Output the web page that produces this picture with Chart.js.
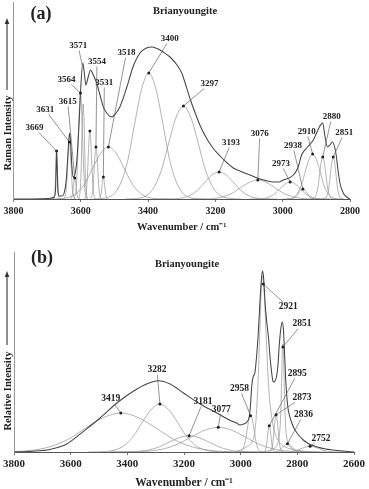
<!DOCTYPE html>
<html>
<head>
<meta charset="utf-8">
<script src="https://cdn.jsdelivr.net/npm/chart.js@4.4.1/dist/chart.umd.min.js"></script>
<style>
  html, body { margin: 0; padding: 0; background: #fff; }
  #wrap { position: relative; width: 369px; height: 489px; }
  canvas { position: absolute; left: 0; }
  #chartA { top: 0; }
  #chartB { top: 245px; }
</style>
</head>
<body>
<div id="wrap">
  <canvas id="chartA" width="369" height="245"></canvas>
  <canvas id="chartB" width="369" height="244"></canvas>
</div>
<script>
const SERIF = '"Liberation Serif", "Times New Roman", serif';

// ---- (a) Raman spectrum, band fit 3800-2800 cm-1 ----
const ticksA = [3800, 3600, 3400, 3200, 3000, 2800];

const spectrumA = [[3800,0],[3720,0.3],[3690,0.8],[3679,2],[3675,10],[3673,35],[3672,48],[3670.5,35],[3668,8],[3664,3],[3655,3],[3648,8],[3643,20],[3639,40],[3636,58],[3633,66],[3630,55],[3627,35],[3623,22],[3618,24],[3612,38],[3606,70],[3600,112],[3594,136],[3589,124],[3585,114],[3578,122],[3571,129],[3563,124],[3553,116],[3543,104],[3533,92],[3523,86],[3508,82],[3495,86],[3484,92],[3463,112],[3445,132],[3424,146],[3405,151],[3388,152],[3370,150],[3355,147],[3335,142],[3314,134],[3300,126],[3290,116],[3275,100],[3260,86],[3245,73],[3225,60],[3205,50],[3186,43],[3165,36],[3147,31],[3127,28],[3097,24],[3067,20],[3028,17],[3012,17],[2998,19],[2968,24],[2954,32],[2944,44],[2926,52],[2909,59],[2891,72],[2881,76],[2876,66],[2867,52],[2860,54],[2852,57],[2842,46],[2836,30],[2830,16],[2820,6],[2810,2],[2800,0]];

const band3669 = [[3687,0],[3680,0.5],[3677,6],[3674.5,29],[3672,48],[3669.5,29],[3667,6],[3664,0.5],[3657,0]];
const band3631 = [[3652,0],[3649,0.6],[3644,8],[3641.5,18],[3639,35],[3636.5,50],[3634,57],[3631.5,50],[3629,35],[3626.5,18],[3624,8],[3619,0.6],[3616,0]];
const band3615 = [[3632,0],[3630,0.2],[3626,3],[3624,7],[3622,13],[3620,18],[3618,21],[3616,18],[3614,13],[3612,7],[3610,3],[3606,0.2],[3604,0]];
const band3601 = [[3622,0],[3619,1.2],[3613,14],[3610,34],[3607,65],[3604,93],[3601,106],[3598,93],[3595,65],[3592,34],[3589,14],[3583,1.2],[3580,0]];
const band3593 = [[3607,0],[3605,1],[3601,13],[3599,30],[3597,58],[3595,84],[3593,95],[3591,84],[3589,58],[3587,30],[3585,13],[3581,1],[3579,0]];
const band3573 = [[3591,0],[3588,0.7],[3583,9],[3580.5,22],[3578,41],[3575.5,60],[3573,68],[3570.5,60],[3568,41],[3565.5,22],[3563,9],[3558,0.7],[3555,0]];
const band3555 = [[3573,0],[3570,0.6],[3565,7],[3562.5,17],[3560,32],[3557.5,46],[3555,52],[3552.5,46],[3550,32],[3547.5,17],[3545,7],[3540,0.6],[3537,0]];
const band3533 = [[3547,0],[3545,0.2],[3541,3],[3539,7],[3537,13],[3535,19],[3533,22],[3531,19],[3529,13],[3527,7],[3525,3],[3521,0.2],[3519,0]];
const band3518 = [[3698,0],[3653,0.6],[3630.5,2.3],[3608,7],[3585.5,17],[3563,32],[3540.5,46],[3518,52],[3495.5,46],[3473,32],[3450.5,17],[3428,7],[3405.5,2.3],[3383,0.6],[3338,0]];
const band3398 = [[3562,0],[3521,1.4],[3500.5,5.5],[3480,17],[3459.5,40],[3439,77],[3418.5,111],[3398,126],[3377.5,111],[3357,77],[3336.5,40],[3316,17],[3295.5,5.5],[3275,1.4],[3234,0]];
const band3295 = [[3467,0],[3424,1],[3402.5,4],[3381,12.5],[3359.5,30],[3338,57],[3316.5,82],[3295,93],[3273.5,82],[3252,57],[3230.5,30],[3209,12.5],[3187.5,4],[3166,1],[3123,0]];
const band3189 = [[3361,0],[3318,0.3],[3296.5,1.2],[3275,3.6],[3253.5,8.6],[3232,16.5],[3210.5,24],[3189,27],[3167.5,24],[3146,16.5],[3124.5,8.6],[3103,3.6],[3081.5,1.2],[3060,0.3],[3017,0]];
const band3074 = [[3274,0],[3224,0.2],[3199,0.8],[3174,2.6],[3149,6],[3124,11.6],[3099,16.7],[3074,19],[3049,16.7],[3024,11.6],[2999,6],[2974,2.6],[2949,0.8],[2924,0.2],[2874,0]];
const band2978 = [[3098,0],[3068,0.2],[3053,0.7],[3038,2.3],[3023,5.4],[3008,10.4],[2993,15],[2978,17],[2963,15],[2948,10.4],[2933,5.4],[2918,2.3],[2903,0.7],[2888,0.2],[2858,0]];
const band2940 = [[2988,0],[2976,0.1],[2970,0.4],[2964,1.4],[2958,3.2],[2952,6.1],[2946,8.8],[2940,10],[2934,8.8],[2928,6.1],[2922,3.2],[2916,1.4],[2910,0.4],[2904,0.1],[2892,0]];
const band2911 = [[2999,0],[2977,0.5],[2966,2],[2955,6.1],[2944,14.4],[2933,27.5],[2922,39.6],[2911,45],[2900,39.6],[2889,27.5],[2878,14.4],[2867,6.1],[2856,2],[2845,0.5],[2823,0]];
const band2881 = [[2917,0],[2908,0.5],[2903.5,1.8],[2899,5.7],[2894.5,13.4],[2890,25.6],[2885.5,37],[2881,42],[2876.5,37],[2872,25.6],[2867.5,13.4],[2863,5.7],[2858.5,1.8],[2854,0.5],[2845,0]];
const band2850 = [[2882,0],[2874,0.5],[2870,1.8],[2866,5.7],[2862,13.4],[2858,25.6],[2854,37],[2850,42],[2846,37],[2842,25.6],[2838,13.4],[2834,5.7],[2830,1.8],[2826,0.5],[2818,0]];

const bandsA = [band3669, band3631, band3615, band3601, band3593, band3573, band3555, band3533, band3518,
  band3398, band3295, band3189, band3074, band2978, band2940, band2911, band2881, band2850];

// peak labels: x/y = marked point, dx/dy = label offset in px
const marksA = [
  {text: '3669', x: 3672, y: 48, dx: -22, dy: -23},
  {text: '3631', x: 3634, y: 57, dx: -24, dy: -32},
  {text: '3615', x: 3618, y: 21, dx: -7, dy: -76},
  {text: '3564', x: 3601, y: 106, dx: -14, dy: -13},
  {text: '3571', x: 3596, y: 134, dx: -4, dy: -19, dot: false},
  {text: '3554', x: 3555, y: 52, dx: 1, dy: -85},
  {text: '3531', x: 3533, y: 22, dx: 1, dy: -94},
  {text: '', x: 3573, y: 68},
  {text: '3518', x: 3518, y: 52, dx: 18, dy: -94},
  {text: '3400', x: 3398, y: 126, dx: 21, dy: -34},
  {text: '3297', x: 3295, y: 93, dx: 26, dy: -22},
  {text: '3193', x: 3189, y: 27, dx: 12, dy: -29},
  {text: '3076', x: 3074, y: 19, dx: 2, dy: -46},
  {text: '2973', x: 2978, y: 17, dx: -9, dy: -18},
  {text: '2938', x: 2940, y: 10, dx: -10, dy: -43},
  {text: '2910', x: 2911, y: 45, dx: -6, dy: -22},
  {text: '2880', x: 2881, y: 42, dx: 9, dy: -40},
  {text: '2851', x: 2850, y: 42, dx: 11, dy: -24}
];

// ---- (b) relative intensity, band fit 3800-2600 cm-1 ----
const ticksB = [3800, 3600, 3400, 3200, 3000, 2800, 2600];

const spectrumB = [[3800,0],[3750,0.5],[3700,1.5],[3673,2.5],[3614,8],[3555,20.7],[3496,34],[3437,49],[3379,60.7],[3332,68],[3291,71.3],[3249,68],[3202,59],[3143,48],[3084,39],[3040,32],[3015,29],[3002,27],[2990,28],[2978,30],[2970,35],[2965,48],[2961,66],[2956,75],[2950,79],[2944,95],[2938,118],[2932,150],[2927,172],[2923,181],[2919,174],[2914,150],[2908,130],[2902,115],[2896,94],[2890,78],[2885,70],[2879,71],[2873,76],[2868,88],[2864,106],[2858,124],[2853,130],[2849,122],[2846,105],[2842,78],[2837,55],[2832,42],[2823,32],[2814,25],[2800,18.5],[2779,12],[2755,7.5],[2732,5.3],[2700,3],[2673,2],[2640,1],[2600,0]];

const band3423 = [[3800,0.4],[3735,1.7],[3673,5.3],[3610.5,12.5],[3548,23.8],[3485.5,34.3],[3423,39],[3360.5,34.3],[3298,23.8],[3235.5,12.5],[3173,5.3],[3110.5,1.7],[3048,0.4],[2923,0]];
const band3285 = [[3537,0],[3474,0.5],[3442.5,2.1],[3411,6.5],[3379.5,15.4],[3348,29.3],[3316.5,42.2],[3285,48],[3253.5,42.2],[3222,29.3],[3190.5,15.4],[3159,6.5],[3127.5,2.1],[3096,0.5],[3033,0]];
const band3182 = [[3462,0],[3392,0.2],[3357,0.7],[3322,2.2],[3287,5.2],[3252,9.9],[3217,14.3],[3182,16.3],[3147,14.3],[3112,9.9],[3077,5.2],[3042,2.2],[3007,0.7],[2972,0.2],[2902,0]];
const band3079 = [[3459,0],[3364,0.3],[3316.5,1.1],[3269,3.3],[3221.5,7.9],[3174,15.1],[3126.5,21.7],[3079,24.7],[3031.5,21.7],[2984,15.1],[2936.5,7.9],[2889,3.3],[2841.5,1.1],[2794,0.3],[2699,0]];
const band2965 = [[3013,0],[3001,0.4],[2995,1.6],[2989,5],[2983,11.8],[2977,22.6],[2971,32.6],[2965,37],[2959,32.6],[2953,22.6],[2947,11.8],[2941,5],[2935,1.6],[2929,0.4],[2917,0]];
const band2922 = [[3020,0],[3000,2],[2980,5],[2960,10],[2950,20],[2944,40],[2938,75],[2932,125],[2927,165],[2922,176],[2917,160],[2912,130],[2906,90],[2900,60],[2892,38],[2882,22],[2870,13],[2855,7],[2835,4],[2800,1.5],[2760,0.5],[2720,0]];
const band2899 = [[2920,0],[2917,0.3],[2914,1.1],[2911,3.6],[2908,8.4],[2905,16],[2902,23],[2899,26.3],[2896,23],[2893,16],[2890,8.4],[2887,3.6],[2884,1.1],[2881,0.3],[2878,0]];
const band2875 = [[2903,0],[2896,0.4],[2892.5,1.6],[2889,5],[2885.5,11.9],[2882,22.8],[2878.5,32.8],[2875,37.3],[2871.5,32.8],[2868,22.8],[2864.5,11.9],[2861,5],[2857.5,1.6],[2854,0.4],[2847,0]];
const band2851 = [[2920,0],[2900,1.5],[2880,4],[2870,8],[2863,18],[2859,35],[2856,65],[2853,100],[2851,108],[2849,100],[2846,65],[2843,35],[2839,18],[2831,8],[2815,3],[2790,1],[2750,0]];
const band2835 = [[2895,0],[2880,0.1],[2872.5,0.4],[2865,1.1],[2857.5,2.7],[2850,5.1],[2842.5,7.3],[2835,8.3],[2827.5,7.3],[2820,5.1],[2812.5,2.7],[2805,1.1],[2797.5,0.4],[2790,0.1],[2775,0]];
const band2755 = [[2875,0],[2845,0.1],[2830,0.3],[2815,0.8],[2800,1.8],[2785,3.5],[2770,5],[2755,5.7],[2740,5],[2725,3.5],[2710,1.8],[2695,0.8],[2680,0.3],[2665,0.1],[2635,0]];

const bandsB = [band3423, band3285, band3182, band3079, band2965, band2922, band2899, band2875, band2851, band2835, band2755];

const marksB = [
  {text: '3419', x: 3423, y: 39, dx: -10, dy: -14},
  {text: '3282', x: 3285, y: 48, dx: -3, dy: -34},
  {text: '3181', x: 3182, y: 16.3, dx: 14, dy: -34},
  {text: '3077', x: 3079, y: 24.7, dx: 3, dy: -18},
  {text: '2958', x: 2965, y: 36.3, dx: -11, dy: -27},
  {text: '2921', x: 2920, y: 168, dx: 25, dy: 23},
  {text: '2851', x: 2851, y: 105, dx: 19, dy: -23},
  {text: '2895', x: 2899, y: 26.3, dx: 28, dy: -52},
  {text: '2873', x: 2875, y: 37.3, dx: 26, dy: -17},
  {text: '2836', x: 2835, y: 8.3, dx: 16, dy: -29},
  {text: '2752', x: 2755, y: 5.7, dx: 11, dy: -8}
];

const toXY = pts => pts.map(([x, y]) => ({x, y}));

// labels, leader lines, dots, panel titles and the y axis arrow
const annotate = {
  id: 'annotate',
  afterDraw(chart, args, o) {
    const {ctx, scales: {x, y}} = chart;
    ctx.save();
    ctx.textAlign = 'center';
    ctx.textBaseline = 'middle';
    ctx.fillStyle = '#222';
    ctx.font = `bold ${o.labelSize}px ${SERIF}`;
    o.marks.forEach(m => {
      const px = x.getPixelForValue(m.x), py = y.getPixelForValue(m.y);
      if (m.text) {
        const lx = px + m.dx, ly = py + m.dy;
        const hw = ctx.measureText(m.text).width / 2 + 1, hh = o.labelSize / 2;
        const ddx = px - lx, ddy = py - ly;
        const t = Math.min(ddx ? hw / Math.abs(ddx) : Infinity, ddy ? hh / Math.abs(ddy) : Infinity);
        ctx.strokeStyle = '#666';
        ctx.lineWidth = 0.7;
        ctx.beginPath();
        ctx.moveTo(lx + ddx * t, ly + ddy * t);
        ctx.lineTo(px, py);
        ctx.stroke();
        ctx.fillText(m.text, lx, ly);
      }
      if (m.dot !== false) {
        ctx.beginPath();
        ctx.arc(px, py, 1.5, 0, Math.PI * 2);
        ctx.fill();
      }
    });

    ctx.font = `bold 18px ${SERIF}`;
    ctx.fillText(o.letter, o.letterAt[0], o.letterAt[1]);
    ctx.font = `bold 10.5px ${SERIF}`;
    ctx.fillText('Brianyoungite', o.nameAt[0], o.nameAt[1]);

    ctx.save();
    ctx.translate(o.yTitleAt[0], o.yTitleAt[1]);
    ctx.rotate(-Math.PI / 2);
    ctx.fillText(o.yTitle, 0, 0);
    ctx.restore();

    const [ax, top, bottom] = o.arrow;
    ctx.strokeStyle = '#333';
    ctx.lineWidth = 1.1;
    ctx.beginPath();
    ctx.moveTo(ax, bottom);
    ctx.lineTo(ax, top + 4);
    ctx.stroke();
    ctx.fillStyle = '#333';
    ctx.beginPath();
    ctx.moveTo(ax, top);
    ctx.lineTo(ax - 2.3, top + 6);
    ctx.lineTo(ax + 2.3, top + 6);
    ctx.closePath();
    ctx.fill();
    ctx.restore();
  }
};

function makePanel(id, p) {
  const datasets = [
    {data: toXY(p.spectrum), borderColor: '#444', borderWidth: 1.05}
  ].concat(p.bands.map(b => ({data: toXY(b), borderColor: '#9a9a9a', borderWidth: 0.75})));
  datasets.forEach(d => {
    d.pointRadius = 0;
    d.fill = false;
    d.cubicInterpolationMode = 'monotone';
  });

  new Chart(document.getElementById(id), {
    type: 'line',
    data: {datasets},
    plugins: [annotate],
    options: {
      responsive: false,
      animation: false,
      devicePixelRatio: 1,
      layout: {padding: p.padding},
      plugins: {
        legend: {display: false},
        tooltip: {enabled: false},
        annotate: p.annot
      },
      scales: {
        x: {
          type: 'linear',
          reverse: true,
          min: p.xMin,
          max: p.xMax,
          afterBuildTicks: s => { s.ticks = p.ticks.map(v => ({value: v})); },
          afterFit: s => { s.height = p.xHeight; s.paddingLeft = 0; s.paddingRight = 0; },
          ticks: {
            callback: v => String(v),
            font: {family: SERIF, size: p.tickSize, weight: 'bold'},
            color: '#222',
            padding: 3,
            maxRotation: 0
          },
          grid: {drawOnChartArea: false, drawTicks: true, tickLength: 3, color: '#777'},
          border: {color: '#555', width: 1},
          title: {
            display: true,
            text: 'Wavenumber / cm\u207B\u00B9',
            color: '#222',
            font: {family: SERIF, size: p.titleSize, weight: 'bold', lineHeight: 1},
            padding: {top: 0, bottom: p.titlePad}
          }
        },
        y: {
          min: 0,
          max: p.yMax,
          ticks: {display: false},
          grid: {display: false},
          border: {color: '#999', width: 1},
          afterFit: s => { s.width = p.left; }
        }
      }
    }
  });
}

makePanel('chartA', {
  spectrum: spectrumA, bands: bandsA, ticks: ticksA,
  xMin: 2800, xMax: 3800, yMax: 197, left: 13.5, xHeight: 46,
  padding: {left: 0, right: 19, top: 2, bottom: 0},
  tickSize: 10, titleSize: 10.5, titlePad: 12,
  annot: {marks: marksA, labelSize: 9, letter: '(a)', letterAt: [41, 14], nameAt: [185, 11],
    yTitle: 'Raman Intensity', yTitleAt: [8, 133], arrow: [7, 18, 90]}
});

makePanel('chartB', {
  spectrum: spectrumB, bands: bandsB, ticks: ticksB,
  xMin: 2600, xMax: 3800, yMax: 200, left: 14, xHeight: 37,
  padding: {left: 0, right: 15, top: 7, bottom: 0},
  tickSize: 11, titleSize: 11.5, titlePad: 0,
  annot: {marks: marksB, labelSize: 9.5, letter: '(b)', letterAt: [42, 13], nameAt: [187, 19],
    yTitle: 'Relative Intensity', yTitleAt: [8, 146], arrow: [7, 26, 100]}
});
</script>
</body>
</html>
